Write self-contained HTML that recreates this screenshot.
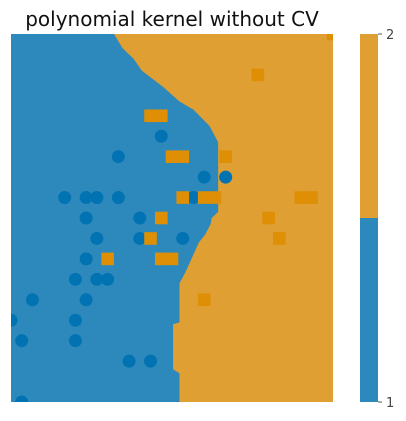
<!DOCTYPE html>
<html><head><meta charset="utf-8"><style>
body{margin:0;background:#fff;width:406px;height:421px;overflow:hidden}
svg{display:block;font-family:"DejaVu Sans","Liberation Sans",sans-serif}
</style></head><body>
<svg id="chart" width="406" height="421">
<text x="172" y="26" font-size="20" text-anchor="middle" fill="#111">polynomial kernel without CV</text>
<g id="plot"></g>
<g>
<rect x="360" y="34" width="18" height="184" fill="#e09f32"/>
<rect x="360" y="218" width="18" height="184" fill="#2d89bb"/>
<line x1="378" y1="34" x2="382" y2="34" stroke="#555"/>
<line x1="378" y1="402" x2="382" y2="402" stroke="#555"/>
<text x="386" y="39" font-size="13" fill="#444">2</text>
<text x="386" y="407" font-size="13" fill="#444">1</text>
</g>
</svg>
<script>
const blueX=[14,10,18,20,5,7,8,10,17,7,12,8,12,16,7,6,8,9,2,7,0,6,1,6,11,13,1];
const blueY=[13,12,11,11,10,10,10,10,10,9,9,8,8,8,7,6,6,6,5,5,4,4,3,3,2,2,0];
const orangeX=[23,13,14,15,16,20,16,18,19,27,28,14,24,13,25,9,14,15,18,30];
const orangeY=[16,14,14,12,12,12,10,10,10,10,10,9,9,8,8,7,7,7,5,18];
// decision boundary (x,y in data units)
const boundaryX=[9.6,10.4,11.4,12.2,14.2,15.7,17,18.5,19.3,19.3,19.3,18.7,18.6,18.1,17.5,16.9,16.3,15.7,15.7,15.1,15.1,15.7,15.7];
const boundaryY=[18,17.3,16.8,16.2,15.4,14.7,14.3,13.5,12.7,11.5,9.3,9,8.7,8.2,7.8,7.1,6.4,5.8,3.9,3.8,1.6,1.4,0];
const X0=11,X1=333,Y0=402,Y1=34,XMAX=30,YMAX=18;
const sx=v=>X0+v*(X1-X0)/XMAX, sy=v=>Y0-v*(Y0-Y1)/YMAX;
const ns="http://www.w3.org/2000/svg", plot=document.getElementById('plot');
function mk(t,a){const e=document.createElementNS(ns,t);for(const k in a)e.setAttribute(k,a[k]);return e;}
const clip=mk('clipPath',{id:'pc'});clip.appendChild(mk('rect',{x:X0,y:Y1,width:X1-X0,height:Y0-Y1}));
const defs=mk('defs',{});defs.appendChild(clip);plot.appendChild(defs);
const g=mk('g',{'clip-path':'url(#pc)'});plot.appendChild(g);
const bg=mk('rect',{x:X0,y:Y1,width:X1-X0,height:Y0-Y1,fill:'#2d89bb'});


g.appendChild(bg);
let d='M'+sx(boundaryX[0])+','+sy(boundaryY[0]);
for(let i=1;i<boundaryX.length;i++)d+=' L'+sx(boundaryX[i])+','+sy(boundaryY[i]);
d+=' L'+X1+','+Y0+' L'+X1+','+Y1+' Z';
const reg=mk('path',{d:d,fill:'#e09f32'});


g.appendChild(reg);
blueX.forEach((x,i)=>{const c=mk('circle',{cx:sx(x),cy:sy(blueY[i]),r:6.5,fill:'#0173b2'});


g.appendChild(c);});
orangeX.forEach((x,i)=>{const r=mk('rect',{x:sx(x)-6.3,y:sy(orangeY[i])-6.3,width:12.6,height:12.6,fill:'#de8f05'});


g.appendChild(r);});
</script>
</body></html>
